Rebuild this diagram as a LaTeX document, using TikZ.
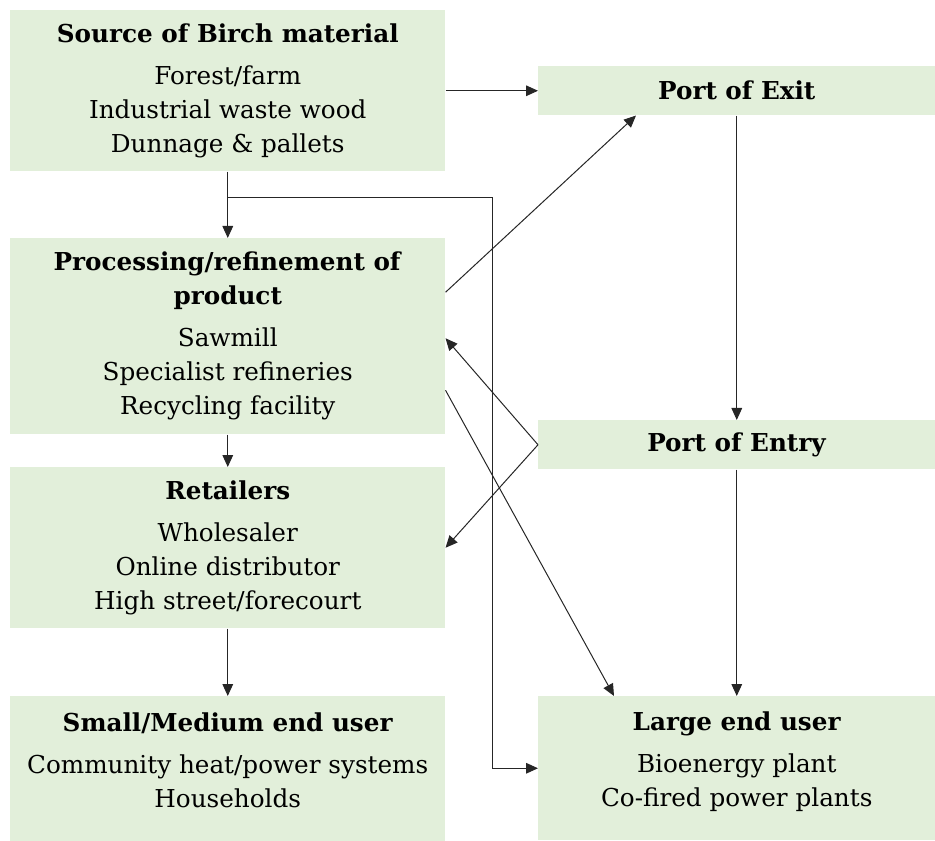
\documentclass[tikz,border=0pt]{standalone}
\usepackage{fontspec}
\setmainfont{DejaVu Serif}
\usetikzlibrary{arrows.meta,calc}
\definecolor{boxgreen}{HTML}{E2EFDA}
\tikzset{>={Triangle[length=9pt,width=8pt]}}
\tikzset{
  box/.style={fill=boxgreen, anchor=north west, align=center, inner sep=0pt,
    font=\fontsize{18.5}{25.5}\selectfont},
  flow/.style={->, draw=black!85, line width=0.75pt},
}

\begin{document}
\begin{tikzpicture}[x=0.75pt,y=-0.75pt]
  \useasboundingbox (0,0) rectangle (935,841);
  % left column
  \node[box, minimum width=326.25pt, minimum height=120.75pt] (source) at (10,10)
    {\textbf{Source of Birch material}\\[6pt] Forest/farm\\ Industrial waste wood\\ Dunnage \& pallets};
  \node[box, minimum width=326.25pt, minimum height=147pt] (process) at (10,238)
    {\textbf{Processing/refinement of}\\ \textbf{product}\\[6pt] Sawmill\\ Specialist refineries\\ Recycling facility};
  \node[box, minimum width=326.25pt, minimum height=120.75pt] (retail) at (10,467)
    {\textbf{Retailers}\\[6pt] Wholesaler\\ Online distributor\\ High street/forecourt};
  \node[box, minimum width=326.25pt, minimum height=108.75pt] (small) at (10,696)
    {\textbf{Small/Medium end user}\\[6pt] Community heat/power systems\\ Households\\[-12pt]};
  % right column
  \node[box, minimum width=297.75pt, minimum height=36.75pt] (exit) at (538,66)
    {\textbf{Port of Exit}};
  \node[box, minimum width=297.75pt, minimum height=36.75pt] (entry) at (538,420)
    {\textbf{Port of Entry}};
  \node[box, minimum width=297.75pt, minimum height=108pt] (large) at (538,696)
    {\textbf{Large end user}\\[6pt] Bioenergy plant\\ Co-fired power plants\\[-12pt]};
  % connectors
  \coordinate (split) at (227.5,198);
  \coordinate (bend) at (492,198);
  \draw[flow] (source.east |- exit.west) -- (exit.west);
  \draw[flow] (source.south) -- (process.north);
  \draw[flow] (split) -- (bend) |- (large.west);
  \draw[flow] ($(process.east)+(0,-44)$) -- ($(exit.south west)+(98,0)$);
  \draw[flow] (entry.west) -- ($(process.east)+(0,2)$);
  \draw[flow] (entry.west) -- (retail.east);
  \draw[flow] ($(process.east)+(0,54)$) -- ($(large.north west)+(76,0)$);
  \draw[flow] (exit.south) -- (entry.north);
  \draw[flow] (entry.south) -- (large.north);
  \draw[flow] (process.south) -- (retail.north);
  \draw[flow] (retail.south) -- (small.north);
\end{tikzpicture}
\end{document}
